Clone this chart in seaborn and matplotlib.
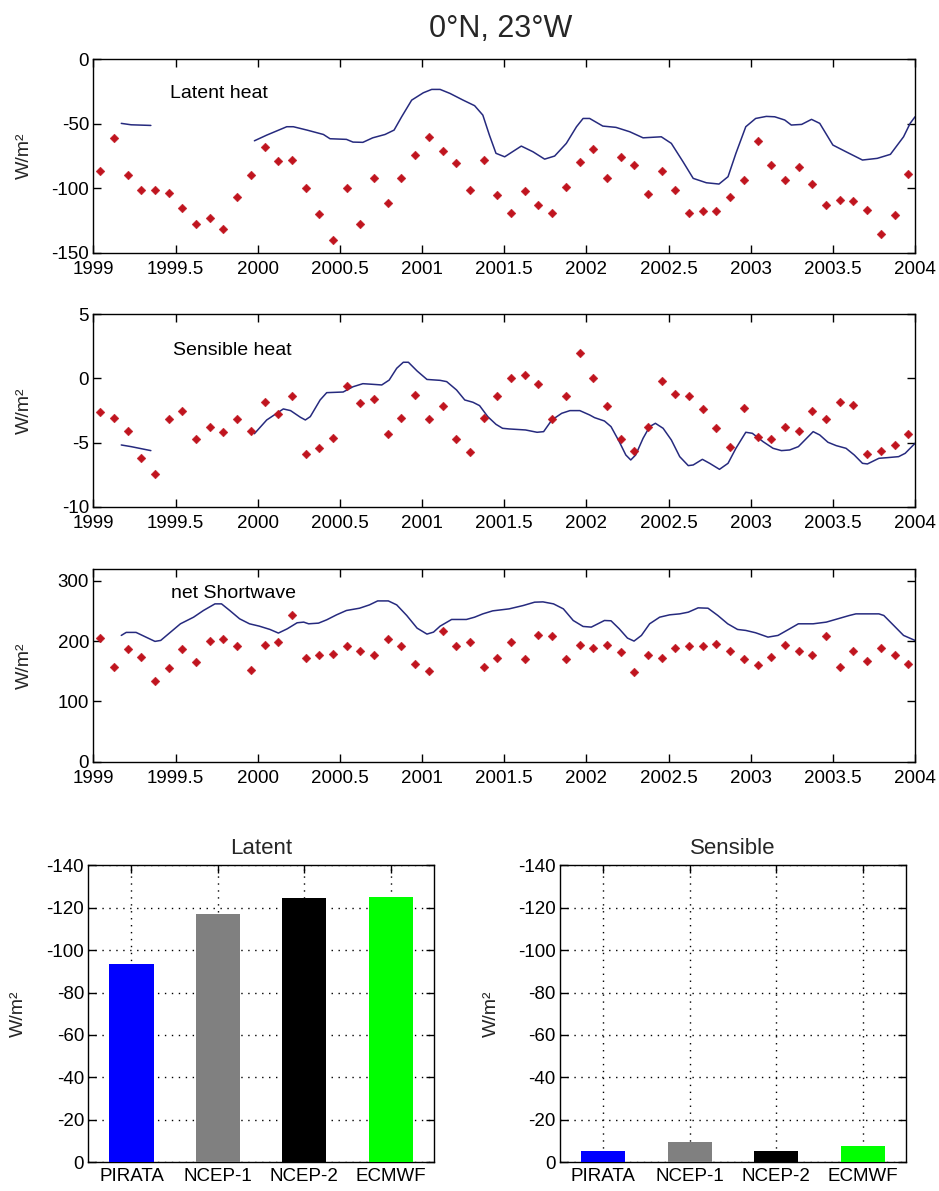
import numpy as np
import pandas as pd
import matplotlib
matplotlib.use("Agg")
import matplotlib.pyplot as plt
from matplotlib import font_manager
import seaborn as sns

# ---------------- data ----------------
months = np.arange(60)  # Jan 1999 .. Dec 2003
month_time = 1999 + (months + 0.5) / 12.0

latent_pirata = [-86.7, -61.4, -90.1, -101.2, -101.2, -103.5, -115.7, -127.8, -123.4, -131.4, -106.6, -90.1,
                 -67.9, -79.0, -78.0, -100.2, -120.1, -140.2, -100.2, -127.8, -92.2, -111.3, -92.2, -74.6,
                 -60.2, -71.3, -80.3, -101.5, -78.0, -105.6, -119.0, -102.2, -113.3, -119.0, -98.9, -80.0,
                 -70.0, -92.2, -75.7, -82.4, -104.6, -86.7, -101.2, -119.0, -118.0, -118.0, -106.6, -93.5,
                 -63.3, -82.4, -93.5, -83.4, -96.8, -113.3, -109.0, -110.0, -116.7, -135.6, -121.1, -89.1]

sensible_pirata = [-2.62, -3.08, -4.07, -6.20, -7.45, -3.19, -2.51, -4.75, -3.76, -4.20, -3.19, -4.07,
                   -1.84, -2.75, -1.39, -5.89, -5.42, -4.64, -0.62, -1.94, -1.63, -4.31, -3.08, -1.29,
                   -3.19, -2.17, -4.75, -5.76, -3.08, -1.39, 0.04, 0.27, -0.41, -3.19, -1.39, 1.96,
                   0.06, -2.17, -4.75, -5.63, -3.76, -0.17, -1.19, -1.39, -2.41, -3.86, -5.32, -2.30,
                   -4.54, -4.75, -3.76, -4.07, -2.51, -3.19, -1.86, -2.07, -5.87, -5.63, -5.19, -4.31]

shortwave_pirata = [204.6, 157.7, 186.4, 174.3, 134.0, 155.5, 186.4, 164.9, 200.2, 203.0, 191.4, 152.8,
                    193.6, 198.0, 243.2, 172.1, 177.1, 179.3, 191.4, 184.2, 177.1, 203.0, 191.4, 162.7,
                    150.6, 217.3, 191.4, 198.0, 157.7, 172.1, 198.0, 169.9, 210.1, 207.9, 169.9, 193.6,
                    188.6, 193.6, 181.5, 148.4, 177.1, 172.1, 188.6, 191.4, 191.4, 195.8, 184.2, 169.9,
                    160.5, 174.3, 193.6, 184.2, 177.1, 207.9, 157.7, 184.2, 167.1, 188.6, 177.1, 162.7]

# model curve (blue), two segments for latent / sensible
latent_t1 = [1999.17, 1999.23, 1999.35]
latent_v1 = [-49.8, -50.9, -51.4]
latent_t2 = [1999.98, 2000.055, 2000.177, 2000.217, 2000.30, 2000.40, 2000.44, 2000.54, 2000.58, 2000.64,
             2000.70, 2000.775, 2000.83, 2000.876, 2000.937, 2001.008, 2001.059, 2001.11, 2001.17, 2001.25,
             2001.32, 2001.37, 2001.41, 2001.45, 2001.503, 2001.604, 2001.675, 2001.746, 2001.807, 2001.878,
             2001.94, 2001.98, 2002.02, 2002.10, 2002.18, 2002.264, 2002.345, 2002.456, 2002.517, 2002.588,
             2002.65, 2002.73, 2002.807, 2002.862, 2002.91, 2002.97, 2003.03, 2003.095, 2003.146, 2003.207,
             2003.247, 2003.31, 2003.37, 2003.42, 2003.50, 2003.58, 2003.68, 2003.77, 2003.85, 2003.93,
             2003.97, 2004.0]
latent_v2 = [-63.3, -58.9, -52.4, -52.4, -55.0, -58.4, -61.7, -62.2, -64.3, -64.5,
             -61.0, -58.4, -55.0, -44.7, -31.8, -26.1, -23.5, -23.5, -26.6, -31.8,
             -36.1, -43.4, -58.9, -73.0, -75.7, -67.4, -71.8, -77.5, -75.1, -65.3,
             -52.4, -46.0, -46.0, -51.9, -52.9, -56.3, -61.0, -60.2, -65.3, -79.5,
             -92.4, -95.8, -96.8, -91.1, -73.0, -52.4, -46.0, -44.4, -44.7, -47.2,
             -51.1, -50.6, -46.7, -49.8, -66.6, -71.8, -78.2, -76.9, -73.8, -60.2,
             -49.8, -44.7]

sensible_t1 = [1999.17, 1999.23, 1999.35]
sensible_v1 = [-5.19, -5.32, -5.63]
sensible_t2 = [1999.98, 2000.055, 2000.116, 2000.156, 2000.20, 2000.26, 2000.29, 2000.32, 2000.38, 2000.42,
               2000.52, 2000.58, 2000.64, 2000.70, 2000.755, 2000.80, 2000.846, 2000.886, 2000.917, 2000.97,
               2001.03, 2001.11, 2001.15, 2001.21, 2001.26, 2001.31, 2001.35, 2001.40, 2001.45, 2001.49,
               2001.53, 2001.63, 2001.70, 2001.74, 2001.79, 2001.85, 2001.90, 2001.96, 2002.02, 2002.05,
               2002.11, 2002.15, 2002.20, 2002.24, 2002.27, 2002.30, 2002.345, 2002.385, 2002.42, 2002.467,
               2002.517, 2002.568, 2002.62, 2002.65, 2002.706, 2002.75, 2002.81, 2002.862, 2002.91, 2002.97,
               2003.01, 2003.075, 2003.136, 2003.187, 2003.237, 2003.29, 2003.34, 2003.38, 2003.42, 2003.47,
               2003.52, 2003.58, 2003.63, 2003.68, 2003.71, 2003.78, 2003.83, 2003.90, 2003.94, 2004.0]
sensible_v2 = [-4.31, -3.24, -2.72, -2.38, -2.51, -3.03, -3.24, -2.98, -1.68, -1.11,
               -1.06, -0.65, -0.41, -0.46, -0.51, -0.13, 0.79, 1.26, 1.26, 0.58,
               -0.08, -0.15, -0.25, -0.90, -1.68, -1.86, -2.12, -2.98, -3.58, -3.89,
               -3.94, -4.02, -4.20, -4.15, -3.24, -2.72, -2.51, -2.51, -2.85, -3.06,
               -3.32, -3.76, -4.93, -5.97, -6.36, -5.97, -4.67, -3.76, -3.50, -3.89,
               -4.80, -6.10, -6.80, -6.75, -6.31, -6.62, -7.09, -6.62, -5.45, -4.20,
               -4.28, -4.93, -5.45, -5.63, -5.58, -5.32, -4.67, -4.15, -4.41, -4.98,
               -5.24, -5.45, -5.97, -6.62, -6.67, -6.23, -6.18, -6.10, -5.84, -5.06]

shortwave_t = [1999.17, 1999.20, 1999.26, 1999.32, 1999.375, 1999.41, 1999.47, 1999.53, 1999.61, 1999.67,
               1999.74, 1999.78, 1999.83, 1999.89, 1999.95, 2000.01, 2000.075, 2000.126, 2000.18, 2000.24,
               2000.28, 2000.31, 2000.37, 2000.42, 2000.48, 2000.54, 2000.62, 2000.68, 2000.73, 2000.795,
               2000.846, 2000.907, 2000.97, 2001.03, 2001.07, 2001.11, 2001.18, 2001.27, 2001.32, 2001.37,
               2001.43, 2001.53, 2001.615, 2001.685, 2001.736, 2001.80, 2001.86, 2001.92, 2001.98, 2002.03,
               2002.07, 2002.11, 2002.15, 2002.20, 2002.25, 2002.29, 2002.335, 2002.385, 2002.446, 2002.507,
               2002.568, 2002.62, 2002.68, 2002.74, 2002.80, 2002.86, 2002.92, 2002.97, 2003.03, 2003.105,
               2003.166, 2003.23, 2003.29, 2003.38, 2003.46, 2003.53, 2003.60, 2003.64, 2003.78, 2003.81,
               2003.87, 2003.93, 2004.0]
shortwave_v = [209.6, 214.6, 214.6, 206.8, 199.7, 201.3, 215.1, 228.9, 239.9, 251.0,
               262.0, 262.0, 251.0, 237.2, 228.9, 225.0, 219.5, 213.5, 220.6, 230.6,
               231.7, 228.9, 230.0, 235.5, 243.8, 251.0, 254.8, 260.3, 266.9, 266.9,
               260.3, 242.7, 221.7, 211.8, 215.1, 225.0, 236.1, 236.1, 239.9, 245.4,
               250.4, 253.7, 259.2, 264.8, 265.3, 262.0, 253.7, 234.4, 224.5, 223.4,
               228.9, 234.4, 233.9, 220.6, 205.2, 200.2, 209.6, 228.9, 239.9, 243.8,
               245.4, 248.2, 255.4, 254.8, 242.7, 228.9, 219.5, 217.9, 214.0, 206.8,
               209.6, 219.5, 228.9, 228.9, 231.7, 237.2, 242.7, 245.4, 245.4, 242.7,
               226.2, 209.6, 201.3]

x_ticks = [1999, 1999.5, 2000, 2000.5, 2001, 2001.5, 2002, 2002.5, 2003, 2003.5, 2004]
x_tick_labels = ["1999", "1999.5", "2000", "2000.5", "2001", "2001.5", "2002", "2002.5", "2003", "2003.5", "2004"]

products = ["PIRATA", "NCEP-1", "NCEP-2", "ECMWF"]
latent_mean = [-93.3, -116.9, -124.4, -125.1]
sensible_mean = [-5.5, -9.7, -5.5, -7.5]
bar_colors = ["#0000ff", "#808080", "#000000", "#00ff00"]

title_text = "0°N, 23°W"
ylab = "W/m²"

# ---------------- style ----------------
sns.set_theme(style="white")
avail = {f.name for f in font_manager.fontManager.ttflist}
fam = [f for f in ["Liberation Sans Narrow", "Liberation Sans", "DejaVu Sans"] if f in avail]
plt.rcParams["font.family"] = fam
plt.rcParams["axes.unicode_minus"] = False

LINE_C = "#262a7e"
DOT_C = "#c0141e"
TICK_FS = 13.5

fig = plt.figure(figsize=(9.39, 11.91), dpi=100)


def style_axes(ax):
    for s in ax.spines.values():
        s.set_color("black")
        s.set_linewidth(1.0)
    ax.tick_params(direction="in", length=6, width=1, colors="black",
                   top=True, right=True, bottom=True, left=True,
                   labelsize=TICK_FS, pad=3)


def ts_panel(rect, dots, segs, ylim, yticks, label, label_pos):
    ax = fig.add_axes(rect)
    for t, v in segs:
        df = pd.DataFrame({"t": t, "v": v})
        sns.lineplot(data=df, x="t", y="v", ax=ax, color=LINE_C, linewidth=1.1,
                     estimator=None, sort=True)
    dfd = pd.DataFrame({"t": month_time, "v": dots})
    sns.scatterplot(data=dfd, x="t", y="v", ax=ax, marker="D", s=20,
                    color=DOT_C, edgecolor=DOT_C, linewidth=0.3, zorder=3)
    ax.set_xlim(1999, 2004)
    ax.set_ylim(*ylim)
    ax.set_xticks(x_ticks)
    ax.set_xticklabels(x_tick_labels)
    ax.set_yticks(yticks)
    ax.set_yticklabels([str(int(y)) for y in yticks])
    ax.set_xlabel("")
    ax.set_ylabel(ylab, fontsize=14)
    ax.yaxis.set_label_coords(-0.073, 0.5)
    ax.text(label_pos[0], label_pos[1], label, transform=ax.transAxes,
            fontsize=14, va="center", ha="left", color="black")
    style_axes(ax)
    ax.tick_params(axis="x", pad=6)
    return ax


ax1 = ts_panel([0.0994, 0.7878, 0.8751, 0.1626], latent_pirata,
               [(latent_t1, latent_v1), (latent_t2, latent_v2)],
               (-150, 0), [-150, -100, -50, 0], "Latent heat", (0.093, 0.823))
ax2 = ts_panel([0.0994, 0.5746, 0.8751, 0.1615], sensible_pirata,
               [(sensible_t1, sensible_v1), (sensible_t2, sensible_v2)],
               (-10, 5), [-10, -5, 0, 5], "Sensible heat", (0.097, 0.814))
ax3 = ts_panel([0.0994, 0.3605, 0.8751, 0.1618], shortwave_pirata,
               [(shortwave_t, shortwave_v)],
               (0, 320), [0, 100, 200, 300], "net Shortwave", (0.095, 0.874))

fig.text(0.5336, 0.976, title_text, ha="center", va="center", fontsize=22)


def bar_panel(rect, vals, title, ylab_x):
    ax = fig.add_axes(rect)
    df = pd.DataFrame({"p": products, "v": vals})
    sns.barplot(data=df, x="p", y="v", hue="p", palette=bar_colors, legend=False,
                ax=ax, width=0.51, saturation=1, edgecolor="none", zorder=3)
    ax.set_xlim(-0.5, 3.5)
    ax.set_ylim(0, -140)
    ax.set_yticks(list(range(-140, 1, 20)))
    ax.set_yticklabels([str(y) for y in range(-140, 1, 20)])
    ax.set_xlabel("")
    ax.set_ylabel(ylab, fontsize=14)
    ax.yaxis.set_label_coords(ylab_x, 0.5)
    ax.set_title(title, fontsize=16, pad=8)
    ax.set_axisbelow(True)
    ax.grid(True, linestyle=(0, (1, 4)), color="black", linewidth=1.0)
    style_axes(ax)
    ax.tick_params(axis="x", pad=4)
    return ax


bar_panel([0.0940, 0.0241, 0.3682, 0.2494], latent_mean, "Latent", -0.177)
bar_panel([0.5964, 0.0241, 0.3682, 0.2494], sensible_mean, "Sensible", -0.174)

fig.savefig("out.png", dpi=100, facecolor="white")
